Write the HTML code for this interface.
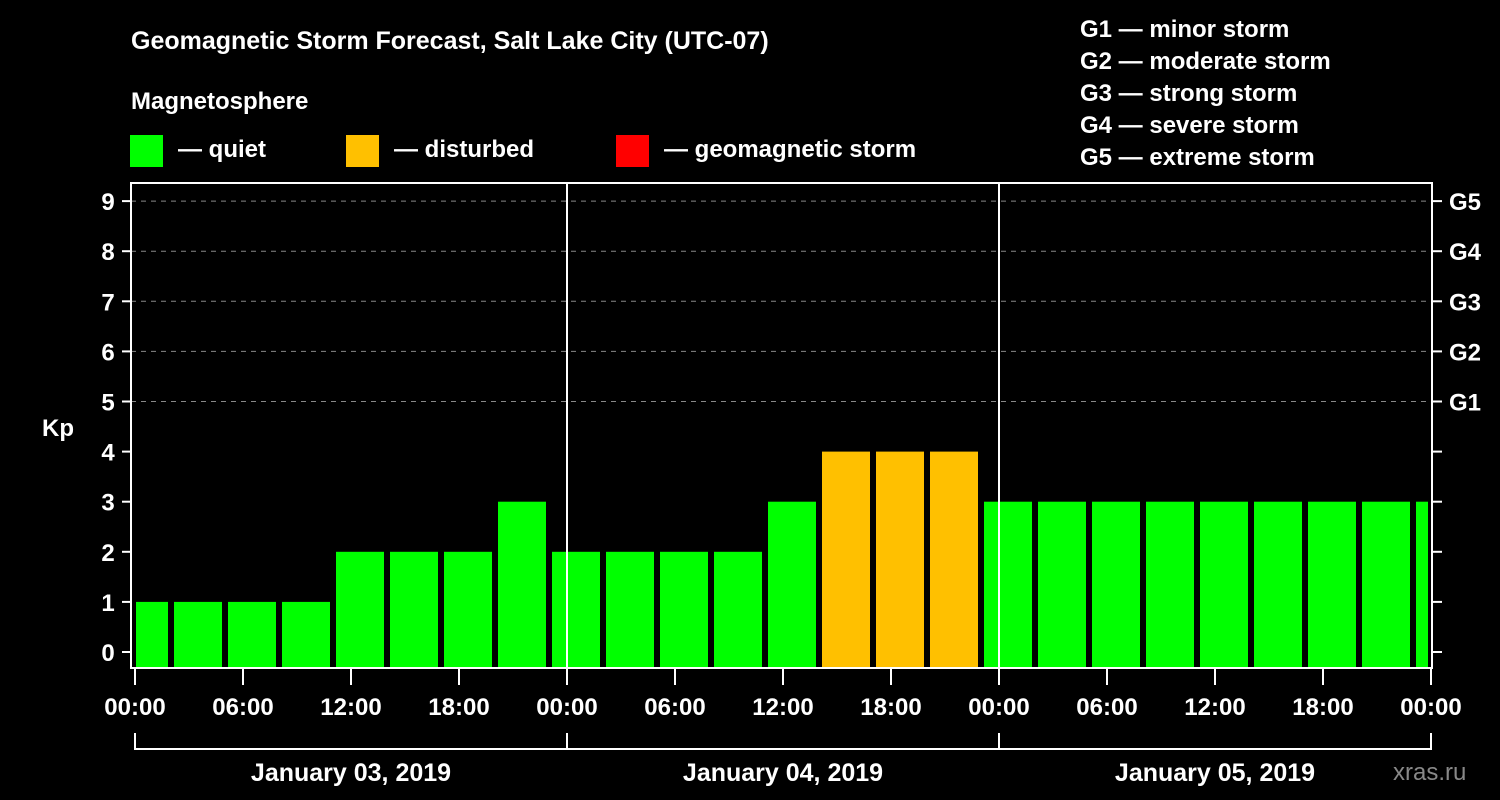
<!DOCTYPE html>
<html><head><meta charset="utf-8"><style>
html,body{margin:0;padding:0;background:#000;}
svg{display:block;font-family:"Liberation Sans",Arial,sans-serif;font-weight:bold;}
</style></head><body>
<svg id="chart" width="1500" height="800" viewBox="0 0 1500 800" xmlns="http://www.w3.org/2000/svg">
<rect width="1500" height="800" fill="#000"/>
<text x="131" y="49" fill="#fff" font-size="25">Geomagnetic Storm Forecast, Salt Lake City (UTC-07)</text>
<text x="131" y="109" fill="#fff" font-size="24">Magnetosphere</text>
<g><rect x="130" y="135" width="33" height="32" fill="#00ff00"/><text x="178" y="157" fill="#fff" font-size="24">— quiet</text></g>
<g><rect x="346" y="135" width="33" height="32" fill="#ffc000"/><text x="394" y="157" fill="#fff" font-size="24">— disturbed</text></g>
<g><rect x="616" y="135" width="33" height="32" fill="#ff0000"/><text x="664" y="157" fill="#fff" font-size="24">— geomagnetic storm</text></g>
<g fill="#fff" font-size="24">
<text x="1080" y="37">G1 — minor storm</text>
<text x="1080" y="69">G2 — moderate storm</text>
<text x="1080" y="101">G3 — strong storm</text>
<text x="1080" y="133">G4 — severe storm</text>
<text x="1080" y="165">G5 — extreme storm</text>
</g>
<text x="42" y="436" fill="#fff" font-size="24">Kp</text>
<text x="1393" y="780" fill="#888" font-size="24" font-weight="normal">xras.ru</text>
<g id="grid"></g><g id="bars"></g><g id="axes"></g>
</svg>
<script>
const kpValues=[1,1,1,1,2,2,2,3, 2,2,2,2,3,4,4,4, 3,3,3,3,3,3,3,3,3];
const yTicks=[0,1,2,3,4,5,6,7,8,9];
const gLabels=["G1","G2","G3","G4","G5"];
const gLevels=[5,6,7,8,9];
const xTickLabels=["00:00","06:00","12:00","18:00","00:00","06:00","12:00","18:00","00:00","06:00","12:00","18:00","00:00"];
const dayLabels=["January 03, 2019","January 04, 2019","January 05, 2019"];
const firstBinHour=-1, binHours=3;
const NS="http://www.w3.org/2000/svg";
const L=131,R=1432,T=183,B=668,X0=135,PXH=18;
const y=v=>652-v*50.1;
const x=h=>X0+h*PXH;
function mk(tag,attrs,parent,txt){const e=document.createElementNS(NS,tag);for(const k in attrs)e.setAttribute(k,attrs[k]);if(txt!==undefined)e.textContent=txt;parent.appendChild(e);return e;}
const grid=document.getElementById('grid'),bars=document.getElementById('bars'),axes=document.getElementById('axes');
gLevels.forEach((v,i)=>{
 const l=mk('line',{x1:L,x2:R,y1:y(v),y2:y(v),stroke:'#888','stroke-dasharray':'5,5','stroke-width':1},grid);
 
 
 const t=mk('text',{x:1449,y:y(v)+9,fill:'#fff','font-size':24},axes,gLabels[i]);
 
 
});
kpValues.forEach((v,i)=>{
 const h0=Math.max(firstBinHour+i*binHours,0),h1=Math.min(firstBinHour+(i+1)*binHours,72);
 const x0=x(h0)+(h0===0?1:3),x1=x(h1)-3;
 const col=v>=5?'#ff0000':(v>=4?'#ffc000':'#00ff00');
 const r=mk('rect',{x:x0,y:y(v),width:x1-x0,height:B-y(v),fill:col},bars);
 
 
});
// day separators
[1,2].forEach(d=>{const l=mk('line',{x1:x(d*24),x2:x(d*24),y1:T,y2:B,stroke:'#fff','stroke-width':2},axes);
 
 });
const frame=mk('rect',{x:L,y:T,width:R-L,height:B-T,fill:'none',stroke:'#fff','stroke-width':2},axes);


yTicks.forEach(v=>{
 mk('line',{x1:122,x2:L,y1:y(v),y2:y(v),stroke:'#fff','stroke-width':2},axes);
 mk('line',{x1:R,x2:1442,y1:y(v),y2:y(v),stroke:'#fff','stroke-width':2},axes);
 const t=mk('text',{x:108,y:y(v)+9,fill:'#fff','font-size':24,'text-anchor':'middle'},axes,String(v));
 
 
});
xTickLabels.forEach((s,i)=>{
 const xx=x(i*6);
 mk('line',{x1:xx,x2:xx,y1:B,y2:685,stroke:'#fff','stroke-width':2},axes);
 const t=mk('text',{x:xx,y:715,fill:'#fff','font-size':24,'text-anchor':'middle'},axes,s);
 
 
});
mk('line',{x1:x(0),x2:x(72),y1:749,y2:749,stroke:'#fff','stroke-width':2},axes);
[0,24,48,72].forEach(h=>mk('line',{x1:x(h),x2:x(h),y1:733,y2:750,stroke:'#fff','stroke-width':2},axes));
dayLabels.forEach((s,i)=>{
 const t=mk('text',{x:x(i*24+12),y:781,fill:'#fff','font-size':25,'text-anchor':'middle'},axes,s);
 
 
});
</script>
</body></html>
